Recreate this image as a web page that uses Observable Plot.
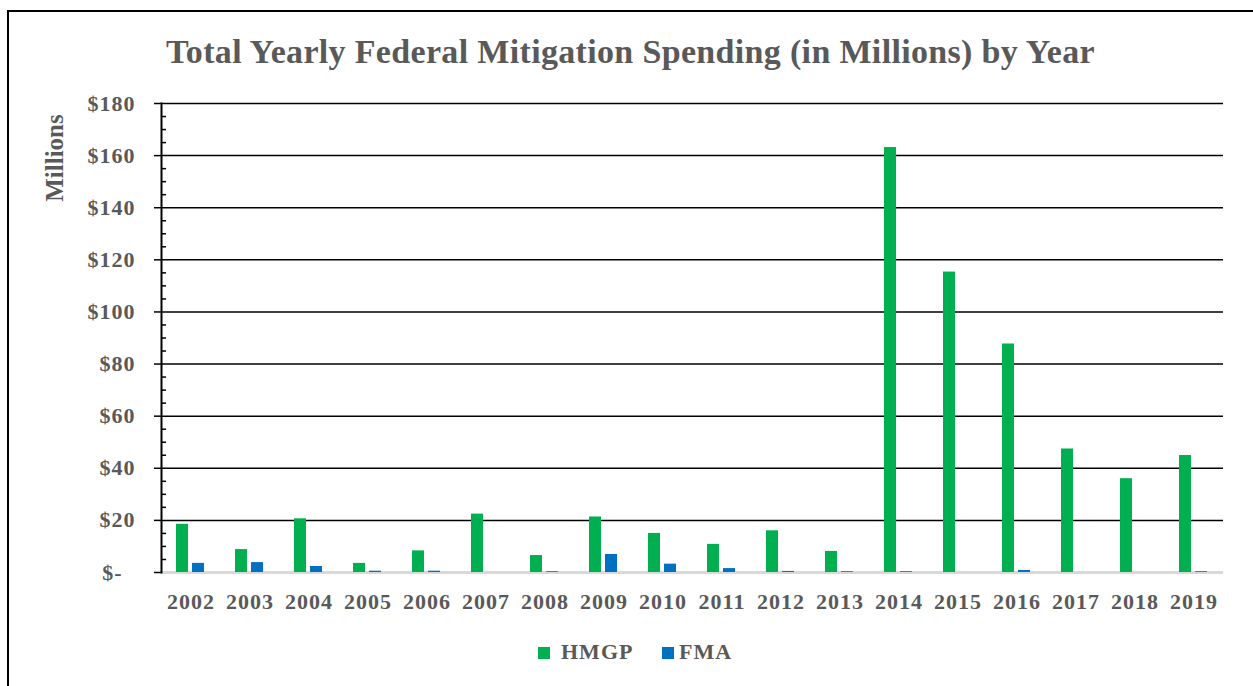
<!DOCTYPE html>
<html>
<head>
<meta charset="utf-8">
<script src="https://cdn.jsdelivr.net/npm/d3@7"></script>
<script src="https://cdn.jsdelivr.net/npm/@observablehq/plot@0.6"></script>
<style>
  html, body { margin: 0; padding: 0; background: #fff; overflow: hidden; }
  #page { position: relative; width: 1253px; height: 686px; overflow: hidden;
          font-family: "Liberation Serif", "Times New Roman", serif; color: #595959; }
  #border { position: absolute; left: 7px; top: 10px; width: 1400px; height: 900px;
            border: 2px solid #000; box-sizing: border-box; }
  #title { position: absolute; left: 0; top: 35px; width: 1261px; text-align: center;
           font-size: 34px; line-height: 34px; font-weight: bold; white-space: nowrap;
           letter-spacing: 0.33px; }
  #ylabel { position: absolute; left: 55px; top: 158px; font-size: 25px; font-weight: bold;
            transform: translate(-50%, -50%) rotate(-90deg); white-space: nowrap; }
  #chart { position: absolute; left: 0; top: 80px; }
  .key { position: absolute; width: 12px; height: 12px; top: 647px; }
  .keytext { position: absolute; top: 640px; font-size: 22px; line-height: 24px; font-weight: bold;
             letter-spacing: 1px; }
</style>
</head>
<body>
<div id="page">
  <div id="border"></div>
  <div id="title">Total Yearly Federal Mitigation Spending (in Millions) by Year</div>
  <div id="ylabel">Millions</div>
  <div id="chart"></div>
  <div class="key" style="left:538px;background:#00B050"></div>
  <div class="keytext" style="left:561px">HMGP</div>
  <div class="key" style="left:662px;background:#0070C0"></div>
  <div class="keytext" style="left:679px">FMA</div>
</div>
<script>
// Yearly federal mitigation spending, in millions of dollars
const years = ["2002", "2003", "2004", "2005", "2006", "2007", "2008", "2009", "2010",
               "2011", "2012", "2013", "2014", "2015", "2016", "2017", "2018", "2019"];
const hmgp = [18.5, 8.8, 20.6, 3.5, 8.3, 22.4, 6.5, 21.3, 15.0,
              10.8, 16.0, 8.1, 163.1, 115.3, 87.7, 47.4, 36.0, 44.9];
const fma = [3.5, 3.8, 2.3, 0.5, 0.5, 0, 0.3, 6.9, 3.2,
             1.5, 0.4, 0.3, 0.3, 0, 0.8, 0, 0, 0.3];
const programs = ["HMGP", "FMA"];
const programColors = ["#00B050", "#0070C0"];
const majorTicks = [0, 20, 40, 60, 80, 100, 120, 140, 160, 180];
const minorTicks = d3.range(0, 181, 5).filter(v => v % 20 !== 0);

const rows = years.flatMap((year, i) => [
  {year, program: "HMGP", value: hmgp[i]},
  {year, program: "FMA", value: fma[i]}
]);

const font = '"Liberation Serif", "Times New Roman", serif';
const money = v => v === 0 ? "$-\u00a0\u00a0" : "$" + v;

const chart = Plot.plot({
  width: 1253,
  height: 560,
  marginLeft: 159,
  marginRight: 28,
  marginTop: 23,
  marginBottom: 68,
  style: {fontFamily: font, background: "transparent", overflow: "visible", letterSpacing: "1px"},
  fx: {domain: years, padding: 0, label: null},
  x: {domain: programs, paddingInner: 0.23, paddingOuter: 0.875, axis: null},
  y: {domain: [0, 180], label: null},
  color: {domain: programs, range: programColors},
  marks: [
    Plot.gridY(majorTicks.filter(v => v > 0), {stroke: "#000", strokeOpacity: 1, strokeWidth: 1.5}),
    Plot.ruleY([0], {stroke: "#d9d9d9", strokeWidth: 3}),
    Plot.barY(rows, {fx: "year", x: "program", y: "value", fill: "program"}),
    Plot.frame({anchor: "left", facetAnchor: "left", stroke: "#000", strokeWidth: 2}),
    Plot.axisY({ticks: minorTicks, tickSize: -5, tickFormat: () => "", stroke: "#000", strokeWidth: 1.5, label: null}),
    Plot.axisY({ticks: majorTicks, tickSize: 7, tickPadding: 19, tickFormat: money,
                stroke: "#000", strokeWidth: 1.5, fill: "#595959",
                fontSize: 22, fontWeight: "bold", label: null}),
    Plot.axisFx({anchor: "bottom", tickSize: 0, tickPadding: 21, fill: "#595959",
                 fontSize: 22, fontWeight: "bold", label: null})
  ]
});
document.getElementById("chart").appendChild(chart);
</script>
</body>
</html>
